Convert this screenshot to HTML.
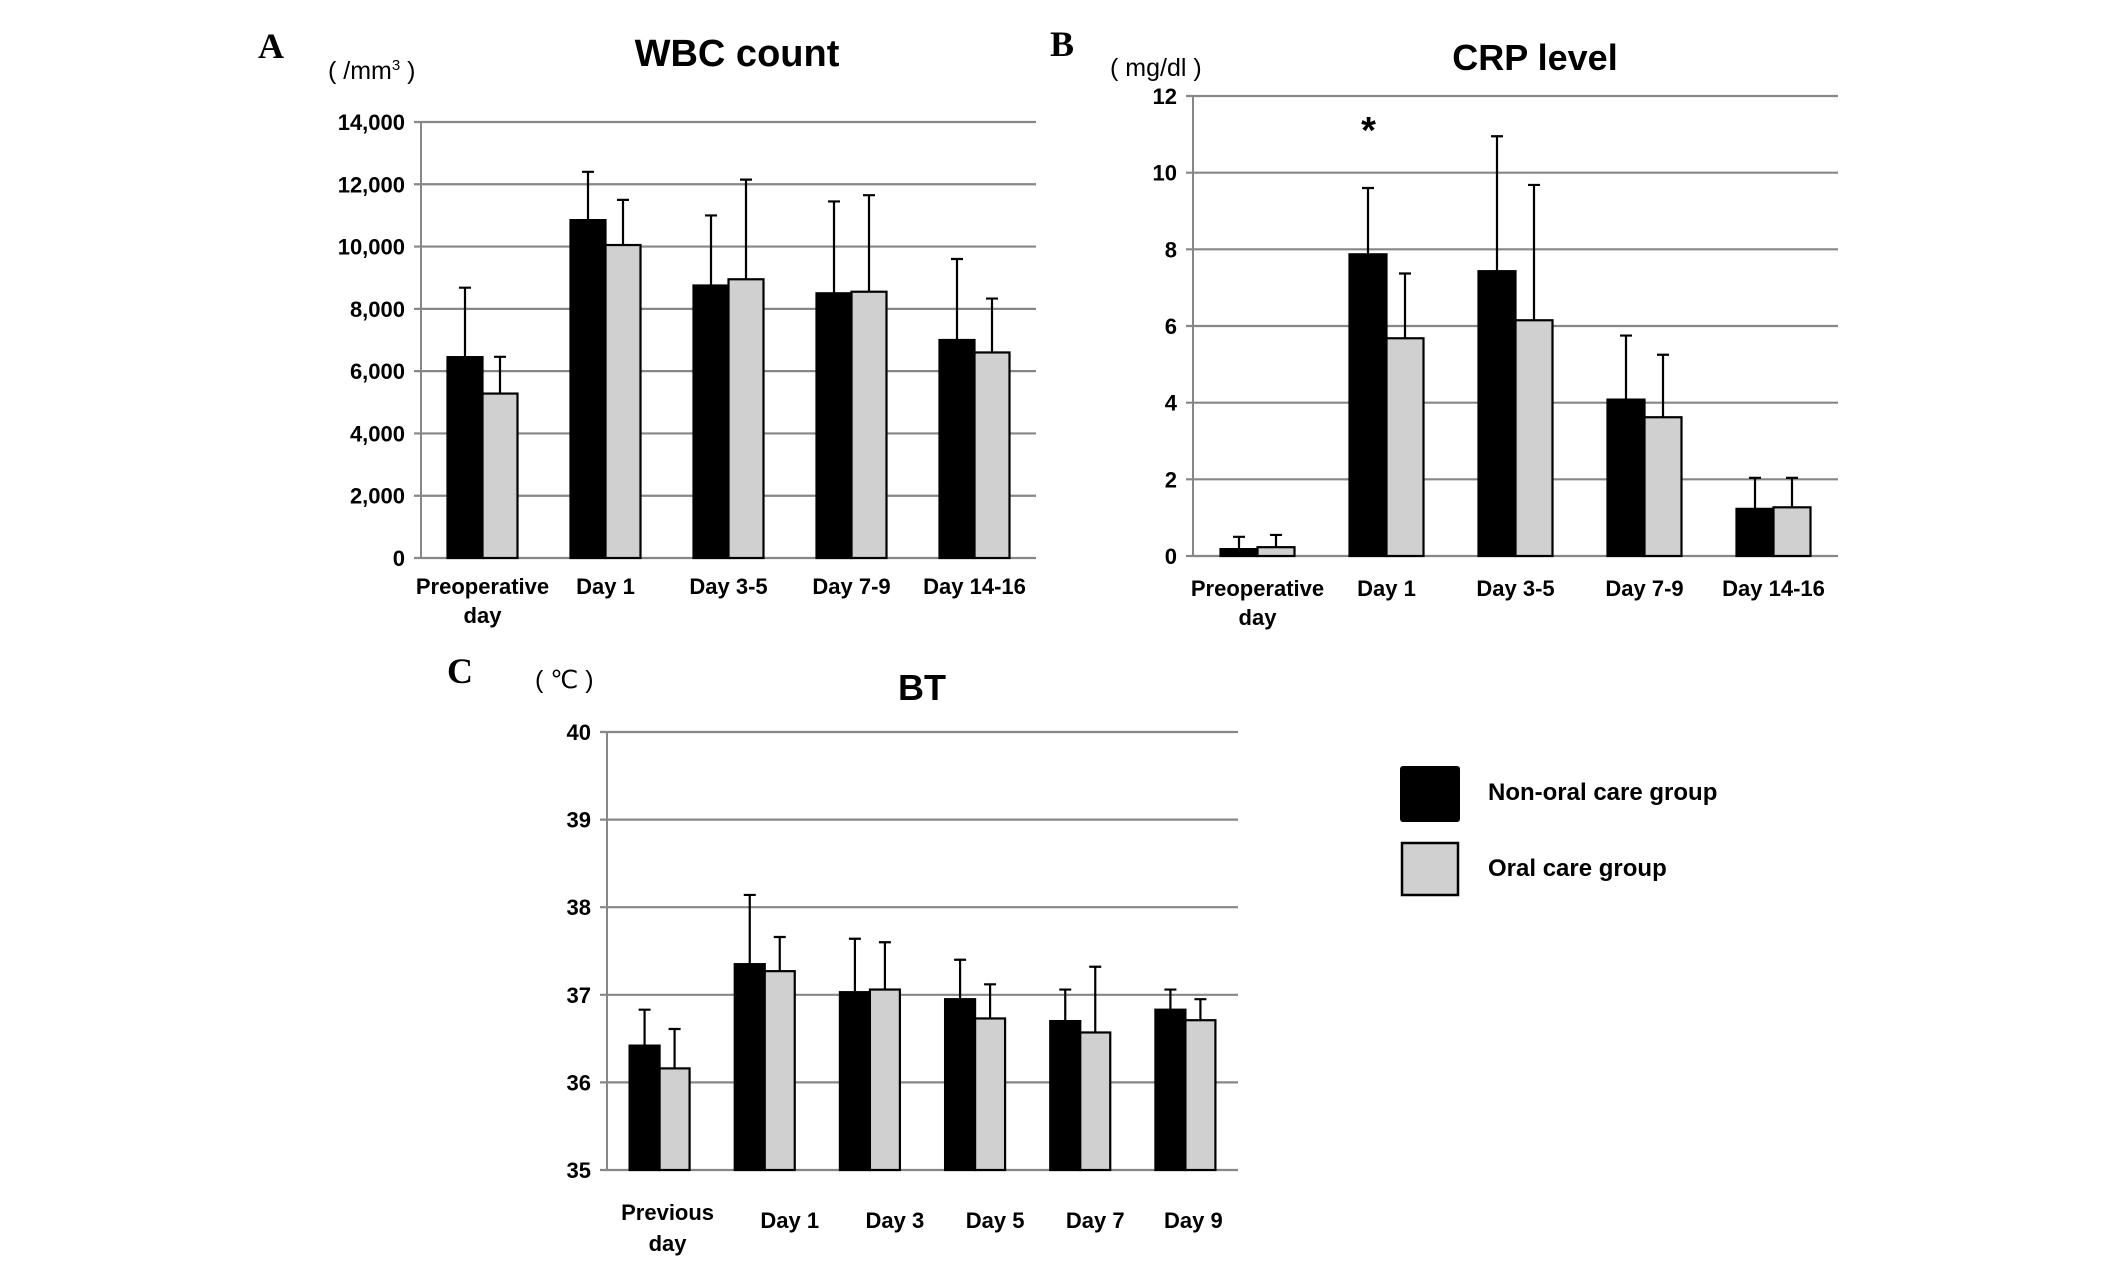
<!DOCTYPE html>
<html><head><meta charset="utf-8">
<style>
html,body{margin:0;padding:0;background:#fff;}
svg{display:block;}
text{font-family:"Liberation Sans",sans-serif;font-weight:bold;fill:#000;}
.serif{font-family:"Liberation Serif",serif;}
.unit{font-weight:normal;}
</style></head>
<body>
<svg id="fig" width="2126" height="1279" viewBox="0 0 2126 1279" xmlns="http://www.w3.org/2000/svg">
  <text class="serif" x="258" y="58" font-size="36">A</text>
  <text x="737" y="66" font-size="38" text-anchor="middle">WBC count</text>
  <text class="unit" x="328" y="79" font-size="25">( /mm<tspan font-size="15" dy="-9">3</tspan><tspan dy="9"> )</tspan></text>

  <text class="serif" x="1050" y="56" font-size="36">B</text>
  <text x="1535" y="70" font-size="36" text-anchor="middle">CRP level</text>
  <text class="unit" x="1110" y="76" font-size="25">( mg/dl )</text>

  <text class="serif" x="447" y="683" font-size="36">C</text>
  <text x="922" y="700" font-size="36" text-anchor="middle">BT</text>
  <text class="unit" x="535" y="688" font-size="25">( ℃ )</text>

  <g>
    <rect x="1400" y="766" width="60" height="56" rx="3" fill="#000"/>
    <text x="1488" y="800" font-size="24">Non-oral care group</text>
    <rect x="1402" y="843" width="56" height="52" fill="#d0d0d0" stroke="#000" stroke-width="2.5"/>
    <text x="1488" y="876" font-size="24">Oral care group</text>
  </g>
</svg>
<script>
// ---- Chart A: WBC ----
const wbcCategories = [["Preoperative","day"],["Day 1"],["Day 3-5"],["Day 7-9"],["Day 14-16"]];
const wbcNonOral = [6450, 10850, 8750, 8500, 7000];
const wbcNonOralErr = [8680, 12400, 11000, 11450, 9600];
const wbcOral = [5280, 10050, 8950, 8550, 6600];
const wbcOralErr = [6460, 11500, 12150, 11650, 8330];
const wbcTicks = [0, 2000, 4000, 6000, 8000, 10000, 12000, 14000];
const wbcTickLabels = ["0","2,000","4,000","6,000","8,000","10,000","12,000","14,000"];

// ---- Chart B: CRP ----
const crpCategories = [["Preoperative","day"],["Day 1"],["Day 3-5"],["Day 7-9"],["Day 14-16"]];
const crpNonOral = [0.18, 7.87, 7.43, 4.08, 1.23];
const crpNonOralErr = [0.5, 9.6, 10.95, 5.75, 2.04];
const crpOral = [0.23, 5.68, 6.15, 3.62, 1.27];
const crpOralErr = [0.55, 7.37, 9.68, 5.25, 2.04];
const crpTicks = [0, 2, 4, 6, 8, 10, 12];
const crpTickLabels = ["0","2","4","6","8","10","12"];

// ---- Chart C: BT ----
const btCategories = [["Previous","day"],["Day 1"],["Day 3"],["Day 5"],["Day 7"],["Day 9"]];
const btNonOral = [36.42, 37.35, 37.03, 36.95, 36.70, 36.83];
const btNonOralErr = [36.83, 38.14, 37.64, 37.40, 37.06, 37.06];
const btOral = [36.16, 37.27, 37.06, 36.73, 36.57, 36.71];
const btOralErr = [36.61, 37.66, 37.60, 37.12, 37.32, 36.95];
const btTicks = [35, 36, 37, 38, 39, 40];
const btTickLabels = ["35","36","37","38","39","40"];

const NS = "http://www.w3.org/2000/svg";
const svg = document.getElementById("fig");
function mk(tag, attrs, parent){
  const e = document.createElementNS(NS, tag);
  for (const k in attrs) e.setAttribute(k, attrs[k]);
  (parent||svg).appendChild(e);
  return e;
}

function drawChart(o){
  const g = mk("g", {});
  
  
  const yScale = v => o.y1 - (v - o.ymin) / (o.ymax - o.ymin) * (o.y1 - o.y0);
  const n = o.cats.length;
  const band = (o.x1 - o.x0) / n;
  const xCenter = i => o.x0 + band * (i + 0.5);
  o.ticks.forEach((t, i) => {
    const y = yScale(t);
    const l = mk("line", {x1:o.x0-7, x2:o.x1, y1:y, y2:y, stroke:"#878787", "stroke-width":2.2}, g);
    
    
    const tx = mk("text", {x:o.x0-16, y:y+8, "font-size":o.tickFont, "text-anchor":"end"}, g);
    
    
    tx.textContent = o.tickLabels[i];
  });
  const ax = mk("line", {x1:o.x0, x2:o.x0, y1:o.y0, y2:o.y1, stroke:"#878787", "stroke-width":2}, g);
  
  
  const series = [[o.a, o.aErr, "#000", "non-oral"], [o.b, o.bErr, "#d0d0d0", "oral"]];
  for (let i = 0; i < n; i++) {
    const c = xCenter(i);
    series.forEach((s, k) => {
      const bx = k === 0 ? c - o.bw : c;
      const top = yScale(s[0][i]);
      const r = mk("rect", {x:bx, y:top, width:o.bw, height:yScale(o.ymin)-top, fill:s[2], stroke:"#000", "stroke-width":2.2}, g);
      
      
      const ex = bx + o.bw / 2, ey = yScale(s[1][i]);
      const el = mk("path", {d:`M${ex},${top} V${ey} M${ex-6},${ey} H${ex+6}`, stroke:"#000", "stroke-width":2.2, fill:"none"}, g);
      
      
    });
    const dx = o.labelDx ? o.labelDx[i] : 0;
    const single = o.cats[i].length === 1 ? (o.singleDy || 0) : 0;
    o.cats[i].forEach((line, j) => {
      const t = mk("text", {x:c + dx, y:o.labelY + single + j*o.labelGap, "font-size":o.labelFont, "text-anchor":"middle"}, g);
      
      
      t.textContent = line;
    });
  }
  return {yScale, xCenter, band};
}

drawChart({name:"wbc", x0:421, x1:1036, y0:122, y1:558, ymin:0, ymax:14000, ticks:wbcTicks, tickLabels:wbcTickLabels,
  cats:wbcCategories, a:wbcNonOral, aErr:wbcNonOralErr, b:wbcOral, bErr:wbcOralErr, bw:35, labelY:594, labelGap:29, labelFont:22, tickFont:22});
const crp = drawChart({name:"crp", x0:1193, x1:1838, y0:96, y1:556, ymin:0, ymax:12, ticks:crpTicks, tickLabels:crpTickLabels,
  cats:crpCategories, a:crpNonOral, aErr:crpNonOralErr, b:crpOral, bErr:crpOralErr, bw:37, labelY:596, labelGap:29, labelFont:22, tickFont:22});
drawChart({name:"bt", x0:607, x1:1238, y0:732, y1:1170, ymin:35, ymax:40, ticks:btTicks, tickLabels:btTickLabels,
  cats:btCategories, a:btNonOral, aErr:btNonOralErr, b:btOral, bErr:btOralErr, bw:30, labelY:1220, labelGap:31, labelFont:22, tickFont:22,
  labelDx:[8,25,25,20,15,8], singleDy:8});

const ast = mk("text", {x:crp.xCenter(1) - 18, y:143, "font-size":38, "font-weight":"normal", "text-anchor":"middle"});


ast.textContent = "*";
</script>
</body></html>
